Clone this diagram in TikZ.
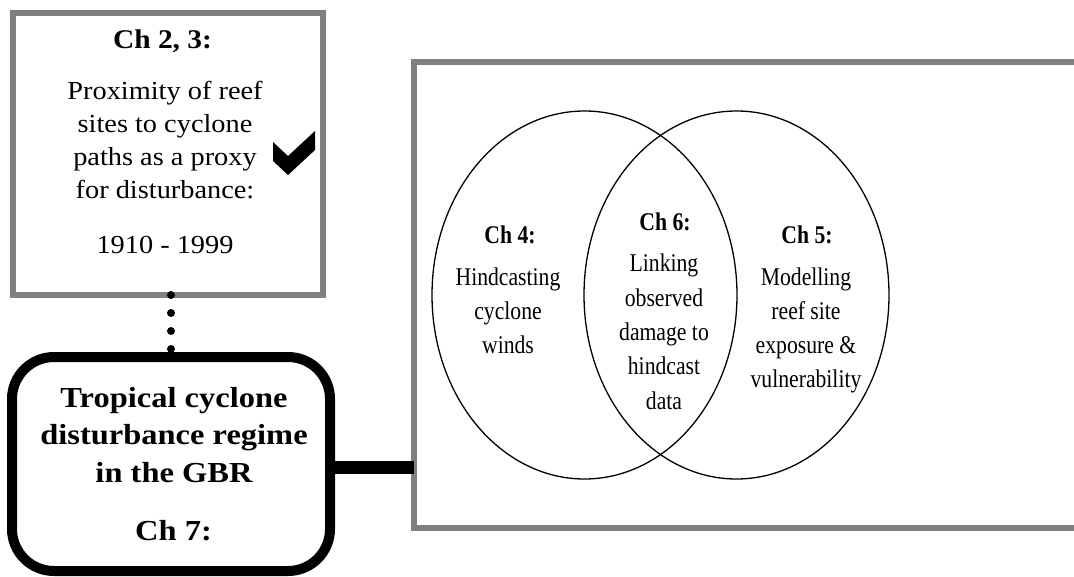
\documentclass[tikz,border=0pt]{standalone}
\usepackage{fontspec}
\setmainfont{Liberation Serif}
\newfontfamily\vennfont[FakeStretch=0.85]{Liberation Serif}
\newfontfamily\topfont[FakeStretch=1.09]{Liberation Serif}
\newfontfamily\bigfont[FakeStretch=1.12]{Liberation Serif}
\usetikzlibrary{shapes.geometric}
\definecolor{framegray}{RGB}{128,128,128}
\begin{document}
\begin{tikzpicture}[x=1pt,y=-1pt,
  graybox/.style={draw=framegray, line width=6pt, rectangle, inner sep=0pt, outer sep=0pt},
  roundbox/.style={draw=black, line width=10pt, rectangle, rounded corners=42pt, inner sep=0pt, outer sep=0pt, fill=white},
  vennset/.style={draw=black, line width=1.3pt, ellipse, inner sep=0pt, outer sep=0pt, minimum width=305pt, minimum height=368pt},
  txt/.style={inner sep=0pt, outer sep=0pt, anchor=base, align=center},
  topbody/.style={txt, font=\topfont\fontsize{26}{32.7}\selectfont},
  toptitle/.style={txt, font=\topfont\bfseries\fontsize{27}{32}\selectfont},
  vbody/.style={txt, font=\vennfont\fontsize{25.5}{34}\selectfont},
  vtitle/.style={txt, font=\vennfont\bfseries\fontsize{25.5}{34}\selectfont},
  bigtxt/.style={txt, font=\bigfont\bfseries\fontsize{29}{37.5}\selectfont},
  dots/.style={line width=8pt, line cap=round, dash pattern=on 0pt off 18pt},
  link/.style={line width=13pt}
]
\useasboundingbox (0,0) rectangle (1074,576);

% right frame (open to the right, clipped by the page)
\begin{scope}
  \clip (0,0) rectangle (1074,576);
  \node[draw=framegray, line width=5.5pt, rectangle, inner sep=0pt, outer sep=0pt,
        minimum width=686pt, minimum height=466pt] (frame) at (757,295) {};
\end{scope}

% top-left box
\node[graybox, minimum width=310.5pt, minimum height=282.5pt] (top) at (167.75,153.75) {};

% rounded box
\node[roundbox, minimum width=318pt, minimum height=214pt] (round) at (171,464) {};

% connectors
\draw[dots] (round.north |- top.south) -- (round.north);
\draw[link] ([yshift=-3pt]round.east) -- ([yshift=-3pt]round.east -| frame.west);

% check mark
\fill (273,142) -- (288,156) -- (315,131) -- (315,150) -- (288,175) -- (273,161) -- cycle;

% Venn ellipses
\node[vennset] (L) at (584.5,295) {};
\node[vennset] (R) at (736.5,295) {};

% top box texts (anchor base = baseline of the last line)
\node[toptitle] (t23) at (162.5,48) {Ch 2, 3:};
\node[topbody] (tprox) at (165,198) {Proximity of reef\\sites to cyclone\\paths as a proxy\\for disturbance:};
\node[topbody] (tyears) at (165,253) {1910 - 1999};

% rounded box texts
\node[bigtxt] (tgbr) at (174,482) {Tropical cyclone\\disturbance regime\\in the GBR};
\node[bigtxt] (t7) at (173.5,540) {Ch 7:};

% Venn texts
\node[vtitle] (t4) at (510,243) {Ch 4:};
\node[vbody] (t4b) at (508,353) {Hindcasting\\cyclone\\winds};
\node[vtitle] (t6) at (665,230) {Ch 6:};
\node[vbody, font=\vennfont\fontsize{25.5}{34.3}\selectfont] (t6b) at (664,409) {Linking\\observed\\damage to\\hindcast\\data};
\node[vtitle] (t5) at (807,243) {Ch 5:};
\node[vbody] (t5b) at (806,387) {Modelling\\reef site\\exposure \&\\vulnerability};
\end{tikzpicture}
\end{document}
